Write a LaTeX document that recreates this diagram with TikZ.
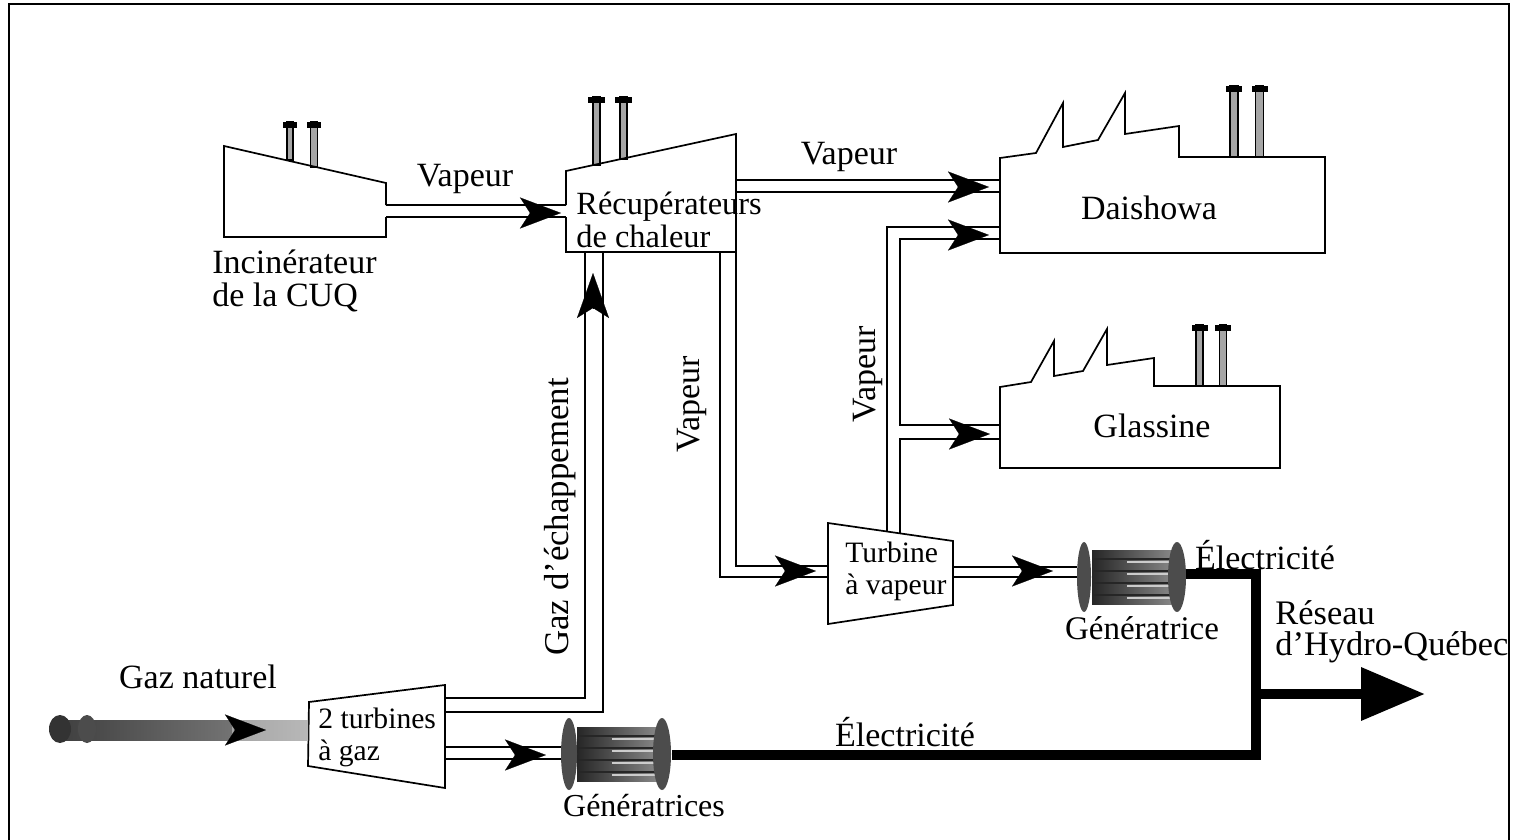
\documentclass[tikz,border=0pt]{standalone}
\usepackage{fontspec}
\setmainfont{Liberation Serif}
\usepackage{tikz}
\usetikzlibrary{arrows.meta}
\tikzset{
  wall/.style={line width=0.85pt},
  bigtxt/.style={font=\fontsize{17}{16.5}\selectfont,inner sep=0pt,align=left},
  smalltxt/.style={font=\fontsize{14.8}{16}\selectfont,inner sep=0pt,align=left},
  headtip/.style={line width=0.1pt,-{Stealth[length=20.5pt,width=15.5pt,inset=5pt]}},
  power/.style={line width=5pt,line join=miter},
}
\begin{document}
\begin{tikzpicture}[x=0.5pt,y=-0.5pt]
\useasboundingbox (0,0) rectangle (1516,840);
\draw[line width=1pt] (9,840) -- (9,4) -- (1509,4) -- (1509,840);
\foreach \n/\x/\y in {%
  incin o1/386/205,incin o2/386/217,recup i1/566/205,recup i2/566/217,%
  recup r1/736/180,recup r2/736/192,daish i1/1000/180,daish i2/1000/192,%
  daish i3/1000/227,daish i4/1000/239,glass i1/1000/425,glass i2/1000/439,%
  recup d1/720/252,recup d2/736/252,turb i1/828/566,turb i2/828/577,%
  recup g1/585/252,recup g2/603/252,gt o1/445/698,gt o2/445/712,%
  gt o3/445/747,gt o4/445/759,genb i1/565/747,genb i2/565/759,%
  turb o1/953/567,turb o2/953/577,gent i1/1077/567,gent i2/1077/577,%
  turb t1/887/531,turb t2/900/533,%
  genb o/672/755,gent o/1186/574,junc/1256/755,tap/1256/694,reseau tip/1425/694,%
  gas a/60/720,gas m/232/740,gas n/232/720,gas b/308/740} {
  \coordinate (\n) at (\x,\y);
}
\foreach \cx/\hw/\cp/\ct/\cb in {%
  290/3/7/122/160,314/3.5/7/122/167,596.5/3.5/8.5/97/165,623.5/3.5/8.5/97/159,%
  1234/4/8/86/157,1259.5/4/8/86/157,1199.5/3.5/8/325/386,1223/3.5/8/325/386} {
  \draw[wall,fill=black!35] (\cx-\hw,\ct) rectangle (\cx+\hw,\cb);
  \fill (\cx-\cp,\ct) rectangle (\cx+\cp,\ct+6);
}
\draw[wall] (incin o1) -- (386,183) -- (224,146) -- (224,237) -- (386,237) -- (incin o2);
\draw[wall] (recup i1) -- (566,171) -- (736,134) -- (736,252) -- (566,252) -- (recup i2);
\draw[wall] (1000,158) -- (1036,153) -- (1063,103) -- (1063,147) -- (1098,140) -- (1125,93) -- (1125,134) -- (1179,126) -- (1179,157) -- (1325,157) -- (1325,253) -- (1000,253) -- cycle;
\draw[wall] (1000,387) -- (1031,382) -- (1054,341) -- (1054,376) -- (1083,371) -- (1107,329) -- (1107,365) -- (1154,358) -- (1154,386) -- (1280,386) -- (1280,468) -- (1000,468) -- cycle;
\draw[wall] (828,523) -- (953,541) -- (953,605) -- (828,624) -- cycle;
\draw[wall] (309,702) -- (445,685) -- (445,788) -- (308,766) -- cycle;
\draw[wall] (incin o1) -- (recup i1) (incin o2) -- (recup i2);
\draw[wall] (recup r1) -- (daish i1) (recup r2) -- (daish i2);
\draw[wall] (recup d1) |- (turb i2) (recup d2) |- (turb i1);
\draw[wall] (recup g1) |- (gt o1) (recup g2) |- (gt o2);
\draw[wall] (gt o3) -- (genb i1) (gt o4) -- (genb i2);
\draw[wall] (turb o1) -- (gent i1) (turb o2) -- (gent i2);
\draw[wall] (turb t1) |- (daish i3);
\draw[wall] (turb t2) |- (glass i2);
\draw[wall] (glass i1) -| (daish i4 -| turb t2) -- (daish i4);
\shade[left color=black!75,right color=black!55] (gas a) rectangle (gas m);
\shade[left color=black!35,right color=black!28] (gas n) rectangle (gas b);
\fill[black!80] (60,729) ellipse [x radius=11,y radius=14];
\fill[black!70] (87,729) ellipse [x radius=9,y radius=14];
\foreach \gl/\gb/\gr/\rl/\rr/\ym/\bh/\dh in {569/577/662/8/9/754/27/36,1084/1092/1177/7/9/577/27/35} {
  \shade[left color=black!85,right color=black!45] (\gb,\ym-\bh) rectangle (\gr,\ym+\bh);
  \foreach \dy in {-18,-6,6,18} {
    \draw[wall,black!85] (\gb,\ym+\dy) -- (\gr,\ym+\dy);
    \draw[wall,black!20] (\gb+35,\ym+\dy+3) -- (\gr,\ym+\dy+3);
  }
  \fill[black!70] (\gl,\ym) ellipse [x radius=\rl,y radius=\dh];
  \fill[black!70] (\gr,\ym) ellipse [x radius=\rr,y radius=\dh];
}
\foreach \tx/\ty in {561/213,989/187,989/235,990/434,816/571,1053/571,546/755,266/730} {
  \draw[headtip] (\tx-31,\ty) -- (\tx,\ty);
}
\draw[line width=0.1pt,-{Stealth[length=22.5pt,width=16pt,inset=5pt]}] (593,308) -- (593,273);
\draw[power] (gent o) -| (junc) -- (genb o);
\draw[power,-{Triangle[length=32pt,width=25.5pt]}] (tap) -- (reseau tip);
\node[bigtxt] (vapa) at (465,179) {Vapeur};
\node[bigtxt] (vapb) at (849,157) {Vapeur};
\node[bigtxt,rotate=90] (vapc) at (692,404) {Vapeur};
\node[bigtxt,rotate=90] (vapd) at (868,374) {Vapeur};
\node[bigtxt,font=\fontsize{17.4}{20}\selectfont,rotate=90] (echap) at (560,517) {Gaz d\symbol{39}échappement};
\node[bigtxt,font=\fontsize{16.2}{16.5}\selectfont,anchor=west] (recup) at (576,220) {Récupérateurs\\de chaleur};
\node[bigtxt,anchor=west] (incin) at (212,281) {Incinérateur\\de la CUQ};
\node[bigtxt] (daish) at (1149,208) {Daishowa};
\node[bigtxt] (glass) at (1152,426) {Glassine};
\node[smalltxt,anchor=west] (turb) at (845,571) {Turbine\\à vapeur};
\node[smalltxt,anchor=west] (gt) at (318,737) {2 turbines\\à gaz};
\node[bigtxt] (gaz) at (198,677) {Gaz naturel};
\node[bigtxt,font=\fontsize{16}{16.5}\selectfont] (genb) at (644,806) {Génératrices};
\node[bigtxt,font=\fontsize{16.5}{16.5}\selectfont] (gent) at (1142,628) {Génératrice};
\node[bigtxt] (elb) at (905,732) {Électricité};
\node[bigtxt] (elt) at (1265,555) {Électricité};
\node[bigtxt,font=\fontsize{17.2}{15.5}\selectfont,anchor=west] (res) at (1275,632) {Réseau\\d\symbol{39}Hydro-Québec};
\end{tikzpicture}
\end{document}
